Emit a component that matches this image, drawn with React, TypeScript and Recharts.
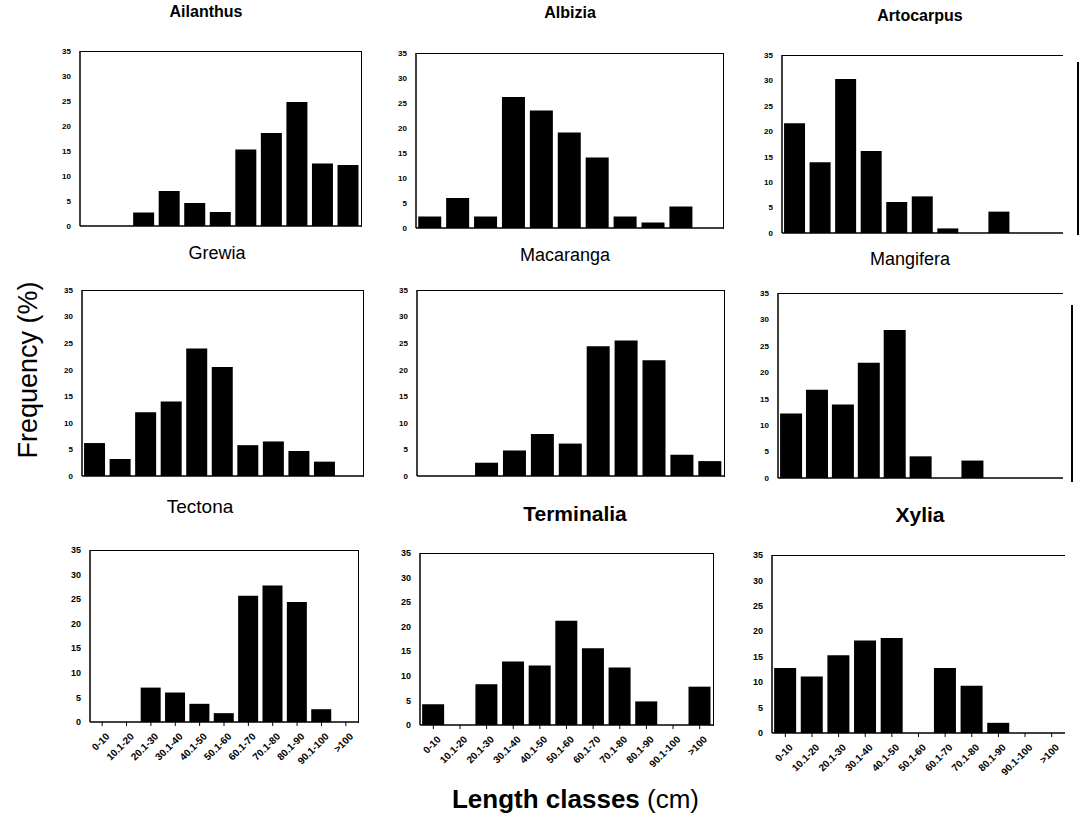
import { BarChart, Bar, XAxis, YAxis } from 'recharts';

const lengthClasses = ['0-10', '10.1-20', '20.1-30', '30.1-40', '40.1-50', '50.1-60', '60.1-70', '70.1-80', '80.1-90', '90.1-100', '>100'];
const yTicks = [0, 5, 10, 15, 20, 25, 30, 35];

const ailanthus = [0, 0, 2.7, 7.0, 4.6, 2.8, 15.3, 18.6, 24.8, 12.5, 12.2];
const albizia = [2.3, 6.0, 2.3, 26.2, 23.5, 19.1, 14.1, 2.3, 1.1, 4.3, 0];
const artocarpus = [21.6, 13.9, 30.3, 16.1, 6.1, 7.2, 0.9, 0, 4.2, 0, 0];
const grewia = [6.2, 3.2, 12.0, 14.0, 24.0, 20.5, 5.8, 6.5, 4.7, 2.7, 0];
const macaranga = [0, 0, 2.5, 4.8, 7.9, 6.1, 24.4, 25.5, 21.8, 4.0, 2.8];
const mangifera = [12.2, 16.7, 13.9, 21.8, 28.0, 4.1, 0, 3.3, 0, 0, 0];
const tectona = [0, 0, 7.0, 6.0, 3.7, 1.8, 25.7, 27.8, 24.4, 2.6, 0];
const terminalia = [4.2, 0, 8.3, 12.9, 12.1, 21.2, 15.6, 11.7, 4.8, 0, 7.8];
const xylia = [12.8, 11.1, 15.3, 18.2, 18.7, 0, 12.8, 9.3, 2.0, 0, 0];

interface PanelCfg {
  name: string;
  values: number[];
  x: number;
  y: number;
  w: number;
  h: number;
  tx: number;
  ty: number;
  titleSize: number;
  titleWeight: number;
  bottomRow?: boolean;
  openRight?: boolean;
}

const panels: PanelCfg[] = [
  { name: 'Ailanthus', values: ailanthus, x: 80, y: 51, w: 281, h: 175, tx: 206, ty: 12, titleSize: 16, titleWeight: 700 },
  { name: 'Albizia', values: albizia, x: 416, y: 53, w: 307, h: 175, tx: 570, ty: 13, titleSize: 16, titleWeight: 700 },
  { name: 'Artocarpus', values: artocarpus, x: 782, y: 55, w: 281, h: 178, tx: 920, ty: 16, titleSize: 16, titleWeight: 700, openRight: true },
  { name: 'Grewia', values: grewia, x: 82, y: 290, w: 281, h: 186, tx: 217, ty: 254, titleSize: 18, titleWeight: 400 },
  { name: 'Macaranga', values: macaranga, x: 417, y: 290, w: 307, h: 186, tx: 565, ty: 256, titleSize: 18, titleWeight: 400 },
  { name: 'Mangifera', values: mangifera, x: 778, y: 293, w: 285, h: 185, tx: 910, ty: 260, titleSize: 18, titleWeight: 400, openRight: true },
  { name: 'Tectona', values: tectona, x: 90, y: 550, w: 268, h: 172, tx: 200, ty: 507, titleSize: 19, titleWeight: 400, bottomRow: true },
  { name: 'Terminalia', values: terminalia, x: 420, y: 553, w: 293, h: 172, tx: 575, ty: 514, titleSize: 21, titleWeight: 700, bottomRow: true },
  { name: 'Xylia', values: xylia, x: 772, y: 555, w: 293, h: 178, tx: 920, ty: 515, titleSize: 21, titleWeight: 700, bottomRow: true, openRight: true },
];

const FONT = '"Liberation Sans", Arial, sans-serif';

const RotTick = (props: any) => {
  const { x, y, payload } = props;
  const ty = y + 4;
  return (
    <text
      x={x + 3}
      y={ty}
      transform={`rotate(-45 ${x + 3} ${ty})`}
      textAnchor="end"
      dominantBaseline="hanging"
      fontSize={10}
      fontWeight={700}
      fontFamily={FONT}
      fill="#000"
    >
      {payload.value}
    </text>
  );
};

const Panel = ({ p }: { p: PanelCfg }) => {
  const yW = 22;
  const mt = 4;
  const mr = 6;
  const xH = p.bottomRow ? 60 : 4;
  const rows = lengthClasses.map((c, i) => ({ cls: c, v: p.values[i] }));
  return (
    <>
      <div style={{ position: 'absolute', left: p.x - yW, top: p.y - mt }}>
        <BarChart
          width={p.w + yW + mr}
          height={p.h + mt + xH}
          data={rows}
          margin={{ top: mt, right: mr, bottom: 0, left: 0 }}
          barCategoryGap="8%"
        >
          <XAxis
            dataKey="cls"
            interval={0}
            height={xH}
            stroke="#000"
            tick={p.bottomRow ? <RotTick /> : false}
            tickLine={p.bottomRow ? { stroke: '#000' } : false}
            tickSize={4}
            axisLine={{ stroke: '#000', strokeWidth: 1.5 }}
          />
          <YAxis
            width={yW}
            domain={[0, 35]}
            ticks={yTicks}
            interval={0}
            stroke="#000"
            axisLine={{ stroke: '#000', strokeWidth: 1.5 }}
            tickLine={false}
            tickMargin={3}
            tick={{ fontSize: p.bottomRow ? 9 : 8, fontWeight: 700, fill: '#000', fontFamily: FONT }}
          />
          <Bar dataKey="v" fill="#000" isAnimationActive={false} />
        </BarChart>
      </div>
      {/* top / right edge of the plot box */}
      <div
        style={{
          position: 'absolute',
          left: p.x,
          top: p.y,
          width: p.w,
          height: p.h,
          borderTop: '1.5px solid #000',
          borderRight: p.openRight ? 'none' : '1.5px solid #000',
          pointerEvents: 'none',
        }}
      />
      <div
        style={{
          position: 'absolute',
          left: p.tx - 100,
          top: p.ty - p.titleSize * 0.6,
          width: 200,
          textAlign: 'center',
          fontFamily: FONT,
          fontSize: p.titleSize,
          fontWeight: p.titleWeight,
          lineHeight: 1.2,
          color: '#000',
        }}
      >
        {p.name}
      </div>
    </>
  );
};

export default function App() {
  return (
    <div
      style={{
        position: 'absolute',
        left: 0,
        top: 0,
        width: 1081,
        height: 830,
        background: '#fff',
        overflow: 'hidden',
        fontFamily: FONT,
      }}
    >
      {panels.map((p) => (
        <Panel key={p.name} p={p} />
      ))}
      {/* stray scan edges on the right */}
      <div style={{ position: 'absolute', left: 1077, top: 62, width: 2, height: 173, background: '#000' }} />
      <div style={{ position: 'absolute', left: 1071, top: 305, width: 2, height: 177, background: '#000' }} />
      <div
        style={{
          position: 'absolute',
          left: 28 - 150,
          top: 370 - 16,
          width: 300,
          height: 32,
          textAlign: 'center',
          fontSize: 27,
          lineHeight: '32px',
          transform: 'rotate(-90deg)',
          color: '#000',
        }}
      >
        Frequency (%)
      </div>
      <div
        style={{
          position: 'absolute',
          left: 0,
          top: 783,
          width: 1151,
          textAlign: 'center',
          fontSize: 26,
          lineHeight: '32px',
          color: '#000',
        }}
      >
        <b>Length classes</b> (cm)
      </div>
    </div>
  );
}
